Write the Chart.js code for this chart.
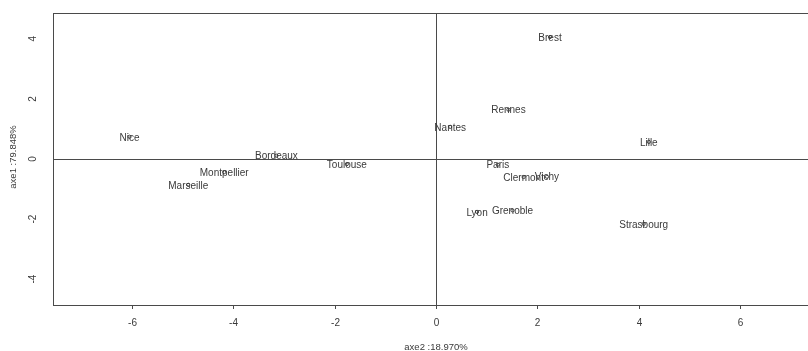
<!DOCTYPE html>
<html>
<head>
<meta charset="utf-8">
<script src="https://cdn.jsdelivr.net/npm/chart.js@4/dist/chart.umd.min.js"></script>
<style>
  html, body { margin: 0; padding: 0; background: #fff; overflow: hidden; }
  #wrap { width: 830px; height: 351px; }
</style>
</head>
<body>
<div id="wrap"><canvas id="c" width="830" height="351"></canvas></div>
<script>
// Cities projected on the first two factorial axes
const cities = ['Nice', 'Marseille', 'Montpellier', 'Bordeaux', 'Toulouse', 'Nantes', 'Rennes', 'Brest',
                'Paris', 'Clermont', 'Vichy', 'Lyon', 'Grenoble', 'Lille', 'Strasbourg'];
const axe2 = [-6.05, -4.89, -4.18, -3.15, -1.76, 0.28, 1.43, 2.25, 1.22, 1.73, 2.19, 0.81, 1.51, 4.20, 4.10];
const axe1 = [0.74, -0.86, -0.44, 0.11, -0.17, 1.07, 1.64, 4.06, -0.19, -0.60, -0.59, -1.76, -1.71, 0.57, -2.16];

const xTicks = [-6, -4, -2, 0, 2, 4, 6];
const yTicks = [-4, -2, 0, 2, 4];
const xTitle = 'axe2 :18.970%';
const yTitle = 'axe1 :79.848%';

const FONT = '"Liberation Sans", Arial, sans-serif';
const TEXT = '#3a3a3a';
const LINE = '#4a4a4a';

const decor = {
  id: 'decor',
  beforeDatasetsDraw(chart) {
    const { ctx, chartArea: a, scales: { x, y } } = chart;
    ctx.save();
    // reference lines through the origin
    ctx.strokeStyle = LINE;
    ctx.lineWidth = 1;
    ctx.beginPath();
    const x0 = Math.round(x.getPixelForValue(0)) + 0.5;
    const y0 = Math.round(y.getPixelForValue(0)) + 0.5;
    ctx.moveTo(x0, a.top); ctx.lineTo(x0, a.bottom);
    ctx.moveTo(a.left, y0); ctx.lineTo(a.right, y0);
    ctx.stroke();
    // city labels, centred on each point
    ctx.fillStyle = TEXT;
    ctx.font = '10px ' + FONT;
    ctx.textAlign = 'center';
    ctx.textBaseline = 'middle';
    cities.forEach((name, i) => {
      ctx.fillText(name, x.getPixelForValue(axe2[i]), y.getPixelForValue(axe1[i]) + 1);
    });
    ctx.restore();
  },
  afterDraw(chart) {
    const { ctx, chartArea: a, scales: { x, y } } = chart;
    ctx.save();
    // plot frame
    ctx.strokeStyle = LINE;
    ctx.lineWidth = 1;
    ctx.strokeRect(Math.round(a.left) + 0.5, Math.round(a.top) + 0.5,
                   Math.round(a.right - a.left), Math.round(a.bottom - a.top));
    // bottom axis ticks and labels
    ctx.fillStyle = TEXT;
    ctx.font = '10px ' + FONT;
    ctx.textAlign = 'center';
    ctx.textBaseline = 'middle';
    ctx.beginPath();
    xTicks.forEach(v => {
      const px = Math.round(x.getPixelForValue(v)) + 0.5;
      ctx.moveTo(px, a.bottom); ctx.lineTo(px, a.bottom + 4);
      ctx.fillText(String(v), px, a.bottom + 18);
    });
    ctx.stroke();
    // left axis labels, rotated
    yTicks.forEach(v => {
      const py = y.getPixelForValue(v);
      ctx.save();
      ctx.translate(a.left - 20, py);
      ctx.rotate(-Math.PI / 2);
      ctx.fillText(String(v), 0, 0);
      ctx.restore();
    });
    // axis titles
    ctx.font = '9.5px ' + FONT;
    ctx.fillText(xTitle, x.getPixelForValue(0), a.bottom + 42);
    ctx.save();
    ctx.translate(a.left - 40, (a.top + a.bottom) / 2 - 2);
    ctx.rotate(-Math.PI / 2);
    ctx.fillText(yTitle, 0, 0);
    ctx.restore();
    ctx.restore();
  }
};

new Chart(document.getElementById('c'), {
  type: 'scatter',
  data: {
    datasets: [{
      data: axe2.map((v, i) => ({ x: v, y: axe1[i] })),
      pointStyle: 'circle',
      pointRadius: 1.6,
      pointBorderWidth: 0.9,
      pointBorderColor: '#333',
      pointBackgroundColor: 'rgba(0,0,0,0)'
    }]
  },
  options: {
    responsive: false,
    animation: false,
    events: [],
    layout: { padding: { left: 53, top: 13, bottom: 46, right: 11 } },
    plugins: { legend: { display: false }, tooltip: { enabled: false } },
    scales: {
      x: { type: 'linear', min: -7.56, max: 7.56, display: false },
      y: { type: 'linear', min: -4.86, max: 4.86, display: false }
    }
  },
  plugins: [decor]
});
</script>
</body>
</html>
